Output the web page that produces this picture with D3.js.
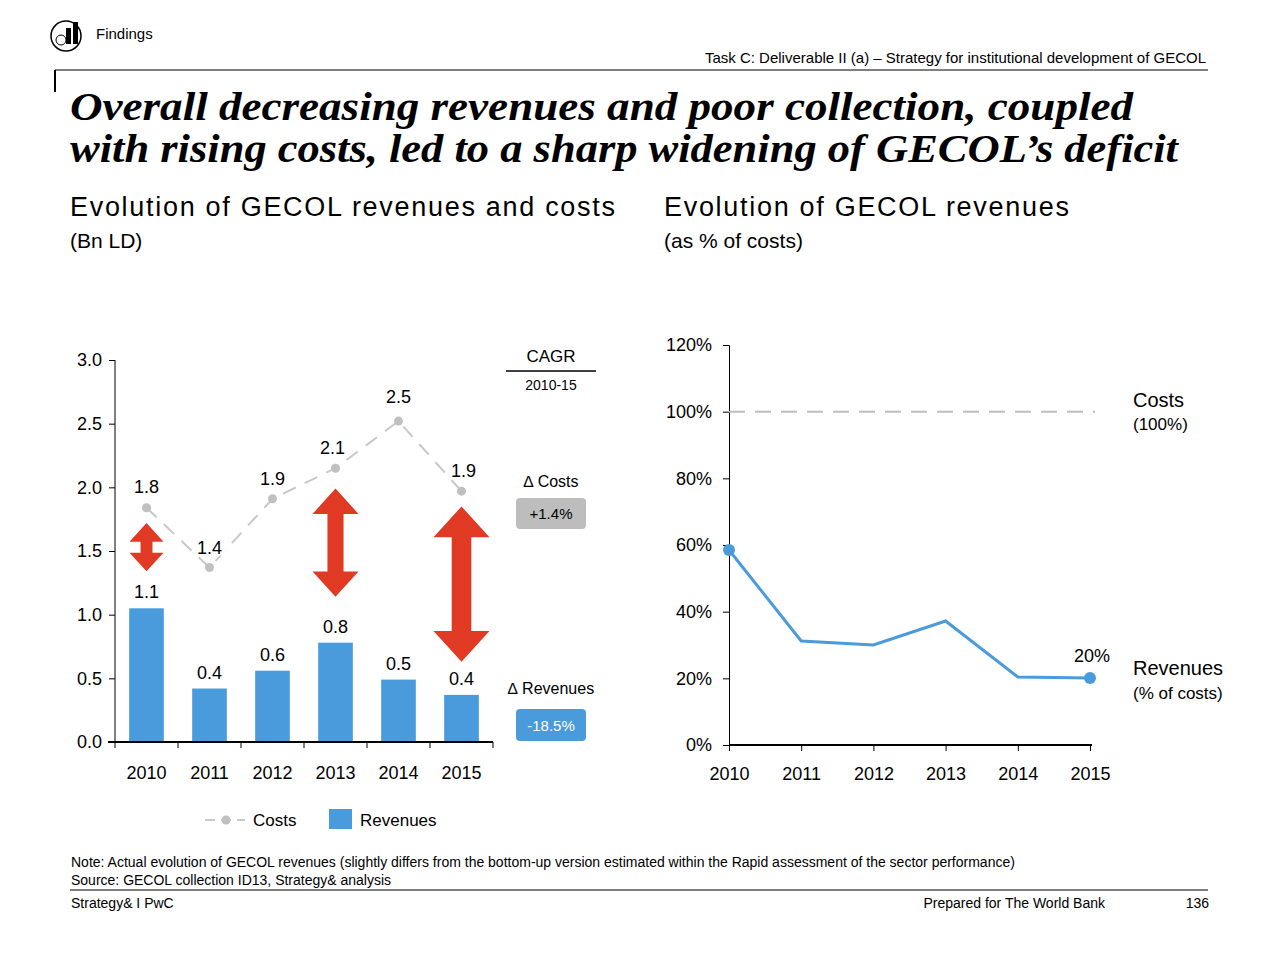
<!DOCTYPE html>
<html><head><meta charset="utf-8">
<script src="https://cdn.jsdelivr.net/npm/d3@7"></script>
<style>body{margin:0;background:#fff}svg{font-family:"Liberation Sans",Arial,sans-serif}</style>
</head><body><svg id="c" width="1280" height="960"></svg>
<script>
const years=["2010","2011","2012","2013","2014","2015"];
const costs=[1.84,1.37,1.91,2.15,2.52,1.97];
const costLabels=["1.8","1.4","1.9","2.1","2.5","1.9"];
const revenues=[1.05,0.42,0.56,0.78,0.49,0.37];
const revLabels=["1.1","0.4","0.6","0.8","0.5","0.4"];
const leftTicks=[0,0.5,1.0,1.5,2.0,2.5,3.0];
const arrows=[{year:"2010",top:1.72,bot:1.34,w:17},{year:"2013",top:1.99,bot:1.14,w:23},{year:"2015",top:1.85,bot:0.63,w:28}];
const revPct=[58.5,31.2,30,37.2,20.4,20.1];
const rightTicks=[0,20,40,60,80,100,120];

const svg=d3.select("#c");
const T=(x,y,t,o={})=>svg.append("text").attr("x",x).attr("y",y).text(t)
 .attr("font-size",o.s||14).attr("fill",o.c||"#000").attr("text-anchor",o.a||"start")
 .attr("font-weight",o.w||"normal").attr("font-style",o.i||"normal").attr("font-family",o.f||null)
 .attr("letter-spacing",o.ls||null);

// header
const ic=svg.append("g");
ic.append("circle").attr("cx",66).attr("cy",36).attr("r",15).attr("fill","none").attr("stroke","#000").attr("stroke-width",1.5);
ic.append("rect").attr("x",66).attr("y",28).attr("width",5).attr("height",16).attr("fill","#000");
ic.append("rect").attr("x",73).attr("y",22).attr("width",5).attr("height",22).attr("fill","#000");
ic.append("circle").attr("cx",61).attr("cy",40).attr("r",5).attr("fill","none").attr("stroke","#000");
T(96,39,"Findings",{s:15});
T(1206,63,"Task C: Deliverable II (a) – Strategy for institutional development of GECOL",{s:15,a:"end"});
svg.append("line").attr("x1",55).attr("x2",1208).attr("y1",70).attr("y2",70).attr("stroke","#000");
svg.append("line").attr("x1",55).attr("x2",55).attr("y1",70).attr("y2",92).attr("stroke","#000").attr("stroke-width",2);
T(70,120,"Overall decreasing revenues and poor collection, coupled",{s:40,w:"bold",i:"italic",f:"'Liberation Serif', serif"})
 .attr("textLength",1063).attr("lengthAdjust","spacingAndGlyphs");
T(70,162,"with rising costs, led to a sharp widening of GECOL’s deficit",{s:40,w:"bold",i:"italic",f:"'Liberation Serif', serif"})
 .attr("textLength",1108).attr("lengthAdjust","spacingAndGlyphs");
T(70,216,"Evolution of GECOL revenues and costs",{s:27,ls:1.7});
T(70,248,"(Bn LD)",{s:21});
T(664,216,"Evolution of GECOL revenues",{s:27,ls:1.7});
T(664,248,"(as % of costs)",{s:21});

// left chart
const x=d3.scaleBand().domain(years).range([115,493]).paddingInner(0.45).paddingOuter(0.225);
const y=d3.scaleLinear().domain([0,3]).range([742,360]);
const cx=d=>x(d)+x.bandwidth()/2;
const ly=svg.append("g").attr("transform","translate(115,0)").call(d3.axisLeft(y).tickValues(leftTicks).tickFormat(d3.format(".1f")).tickSize(6));
ly.select(".domain").attr("d","M0,360V742");
ly.selectAll("text").attr("font-size",18).attr("fill","#000").attr("font-family","Liberation Sans, Arial").attr("dx",-4);
svg.selectAll(".bar").data(revenues).join("rect").attr("x",(d,i)=>x(years[i])).attr("width",x.bandwidth())
 .attr("y",d=>y(d)).attr("height",d=>742-y(d)).attr("fill","#4a9bdc");
const xa=svg.append("g").attr("transform","translate(0,742)").call(d3.axisBottom(x).tickSize(0).tickSizeOuter(0));
xa.select(".domain").attr("d","M108,0H493").attr("stroke-width",2);
xa.selectAll("text").attr("font-size",18).attr("fill","#000").attr("dy",34).attr("font-family","Liberation Sans, Arial");
const bounds=[115].concat(years.map(d=>x(d)+x.bandwidth()+x.step()*x.paddingInner()/2));
bounds[bounds.length-1]=493;
svg.selectAll(".sep").data(bounds).join("line").attr("x1",d=>d).attr("x2",d=>d).attr("y1",742).attr("y2",748).attr("stroke","#000");
svg.append("path").datum(costs).attr("d",d3.line().x((d,i)=>cx(years[i])).y(d=>y(d)))
 .attr("fill","none").attr("stroke","#c8c8c8").attr("stroke-width",2).attr("stroke-dasharray","14,10");
svg.selectAll(".pt").data(costs).join("circle").attr("cx",(d,i)=>cx(years[i])).attr("cy",d=>y(d)).attr("r",4.5).attr("fill","#c0c0c0");
costLabels.forEach((t,i)=>{const off=[-15,-14,-14,-14,-18,-14][i];const dx=[0,0,0,-3,0,2][i];
 svg.append("rect").attr("x",cx(years[i])-16+dx).attr("y",y(costs[i])+off-20).attr("width",32).attr("height",22).attr("fill","#fff");
 T(cx(years[i])+dx,y(costs[i])+off,t,{s:18,a:"middle"});});
revLabels.forEach((t,i)=>T(cx(years[i]),y(revenues[i])-10,t,{s:18,a:"middle"}));
arrows.forEach(a=>{const X=cx(a.year),t=y(a.top),b=y(a.bot),w=a.w,h=w*1.1,s=w*0.7;
 svg.append("path").attr("d",`M${X},${t}L${X+w},${t+h}L${X+s/2},${t+h}L${X+s/2},${b-h}L${X+w},${b-h}L${X},${b}L${X-w},${b-h}L${X-s/2},${b-h}L${X-s/2},${t+h}L${X-w},${t+h}Z`).attr("fill","#e03a25");});
// CAGR column
T(551,362,"CAGR",{s:17,a:"middle"});
svg.append("line").attr("x1",506).attr("x2",596).attr("y1",371).attr("y2",371).attr("stroke","#000").attr("stroke-width",1.5);
T(551,390,"2010-15",{s:14,a:"middle"});
T(551,487,"∆ Costs",{s:16,a:"middle"});
svg.append("rect").attr("x",516).attr("y",498).attr("width",70).attr("height",31).attr("rx",4).attr("fill","#bdbdbd");
T(551,519,"+1.4%",{s:15,a:"middle"});
T(551,694,"∆ Revenues",{s:16,a:"middle"});
svg.append("rect").attr("x",516).attr("y",709).attr("width",70).attr("height",32).attr("rx",4).attr("fill","#4a9bdc");
T(551,731,"-18.5%",{s:15,a:"middle",c:"#fff"});
// legend
svg.append("line").attr("x1",205).attr("x2",245).attr("y1",820).attr("y2",820).attr("stroke","#c8c8c8").attr("stroke-width",2).attr("stroke-dasharray","10,6");
svg.append("circle").attr("cx",226).attr("cy",820).attr("r",4.5).attr("fill","#c0c0c0");
T(253,826,"Costs",{s:17});
svg.append("rect").attr("x",329).attr("y",809).attr("width",23).attr("height",20).attr("fill","#4a9bdc");
T(360,826,"Revenues",{s:17});

// right chart
const x2=d3.scalePoint().domain(years).range([729,1090]);
const y2=d3.scaleLinear().domain([0,120]).range([745,345]);
const ry=svg.append("g").attr("transform","translate(729,0)").call(d3.axisLeft(y2).tickValues(rightTicks).tickFormat(d=>d+"%").tickSize(6));
ry.selectAll("text").attr("font-size",18).attr("fill","#000").attr("font-family","Liberation Sans, Arial").attr("dx",-8);
const rx=svg.append("g").attr("transform","translate(0,745)").call(d3.axisBottom(x2).tickSize(6).tickSizeOuter(0));
rx.select(".domain").attr("d","M729,0H1092").attr("stroke-width",2);
rx.selectAll("text").attr("font-size",18).attr("fill","#000").attr("dy",26).attr("font-family","Liberation Sans, Arial");
svg.append("line").attr("x1",729).attr("x2",1095).attr("y1",y2(100)).attr("y2",y2(100)).attr("stroke","#bdbdbd").attr("stroke-width",2).attr("stroke-dasharray","16,10");
svg.append("path").datum(revPct).attr("d",d3.line().x((d,i)=>x2(years[i])).y(d=>y2(d))).attr("fill","none").attr("stroke","#4a9bdc").attr("stroke-width",3);
[0,5].forEach(i=>svg.append("circle").attr("cx",x2(years[i])).attr("cy",y2(revPct[i])).attr("r",6).attr("fill","#4a9bdc"));
T(1092,662,"20%",{s:18,a:"middle"});
T(1133,407,"Costs",{s:20});
T(1133,430,"(100%)",{s:17});
T(1133,675,"Revenues",{s:20});
T(1133,699,"(% of costs)",{s:17});

// footer
T(71,867,"Note: Actual evolution of GECOL revenues (slightly differs from the bottom-up version estimated within the Rapid assessment of the sector performance)",{s:14});
T(71,885,"Source: GECOL collection ID13, Strategy& analysis",{s:14});
svg.append("line").attr("x1",70).attr("x2",1208).attr("y1",890).attr("y2",890).attr("stroke","#000");
T(71,908,"Strategy& I PwC",{s:14});
T(1105,908,"Prepared for The World Bank",{s:14,a:"end"});
T(1209,908,"136",{s:14,a:"end"});
</script></body></html>
